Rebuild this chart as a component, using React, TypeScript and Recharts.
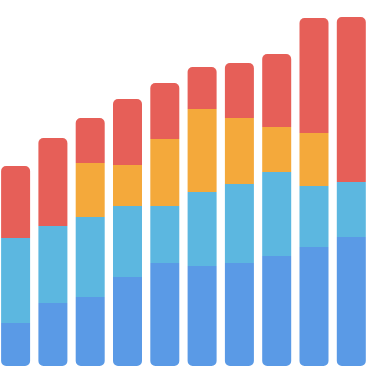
import React from "react";
import { BarChart, Bar, XAxis, YAxis } from "recharts";

const categories = ["1", "2", "3", "4", "5", "6", "7", "8", "9", "10"];
const seriesA = [43, 63, 69, 89, 103, 100, 103, 110, 119, 129];
const seriesB = [85, 77, 80, 71, 57, 74, 79, 84, 61, 55];
const seriesC = [0, 0, 54, 41, 67, 83, 66, 45, 53, 0];
const seriesD = [72, 88, 45, 66, 56, 42, 55, 73, 115, 165];

const data = categories.map((c, i) => ({
  name: c,
  a: seriesA[i],
  b: seriesB[i],
  c: seriesC[i],
  d: seriesD[i],
}));

export default function App() {
  return (
    <div style={{ position: "absolute", left: -3, top: 0 }}>
      <BarChart
        width={384}
        height={366}
        data={data}
        margin={{ top: 0, right: 11, bottom: 0, left: 0 }}
        barCategoryGap="11%"
      >
        <XAxis dataKey="name" hide />
        <YAxis hide domain={[0, 366]} />
        <Bar dataKey="a" stackId="s" fill="#5a9ae6" radius={[0, 0, 5, 5]} isAnimationActive={false} />
        <Bar dataKey="b" stackId="s" fill="#5cb7e0" isAnimationActive={false} />
        <Bar dataKey="c" stackId="s" fill="#f4a93b" isAnimationActive={false} />
        <Bar dataKey="d" stackId="s" fill="#e65f58" radius={[5, 5, 0, 0]} isAnimationActive={false} />
      </BarChart>
    </div>
  );
}
